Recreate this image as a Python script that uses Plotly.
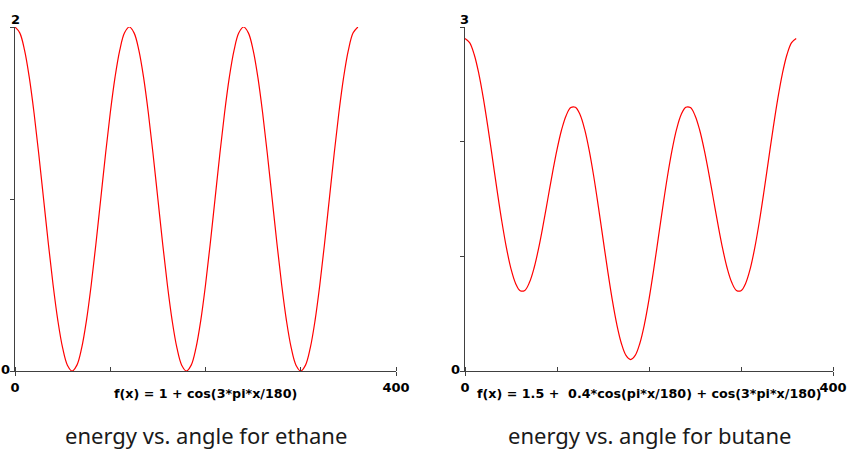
import plotly.graph_objects as go

# angle values (degrees)
angles = [0, 5, 10, 15, 20, 25, 30, 35, 40, 45, 50, 55, 60, 65, 70, 75, 80, 85, 90,
          95, 100, 105, 110, 115, 120, 125, 130, 135, 140, 145, 150, 155, 160, 165, 170, 175, 180,
          185, 190, 195, 200, 205, 210, 215, 220, 225, 230, 235, 240, 245, 250, 255, 260, 265, 270,
          275, 280, 285, 290, 295, 300, 305, 310, 315, 320, 325, 330, 335, 340, 345, 350, 355, 360]

# ethane energy, f(x) = 1 + cos(3*pi*x/180)
ethane_period = [2.0, 1.966, 1.866, 1.707, 1.5, 1.259, 1.0, 0.741, 0.5, 0.293, 0.134, 0.034, 0.0,
                 0.034, 0.134, 0.293, 0.5, 0.741, 1.0, 1.259, 1.5, 1.707, 1.866, 1.966]
ethane_energy = ethane_period + ethane_period + ethane_period + [2.0]

# butane energy, f(x) = 1.5 + 0.4*cos(pi*x/180) + cos(3*pi*x/180)
butane_half = [2.9, 2.864, 2.760, 2.594, 2.376, 2.121, 1.846, 1.569, 1.306, 1.076, 0.891, 0.764,
               0.700, 0.703, 0.771, 0.896, 1.069, 1.276, 1.5, 1.724, 1.931, 2.104, 2.229, 2.297,
               2.3, 2.237, 2.109, 1.924, 1.694, 1.431, 1.154, 0.879, 0.624, 0.406, 0.240, 0.136, 0.1]
butane_energy = butane_half + butane_half[-2::-1]

x_tickvals = [0, 100, 200, 300, 400]
x_ticktext = ["0", "", "", "", "400"]
formulas = ["f(x) = 1 + cos(3*pi*x/180)",
            "f(x) = 1.5 +  0.4*cos(pi*x/180) + cos(3*pi*x/180)"]
captions = ["energy vs. angle for ethane", "energy vs. angle for butane"]
y_tops = [2, 3]

W, H = 848, 451
AXC = "#404040"
BOLD = "DejaVu Sans, Liberation Sans, sans-serif"
tickfont = dict(family=BOLD, size=13, color="#000000", weight="bold")

def px_x(sx):
    return sx / W

def px_y(sy):
    return (H - sy) / H

fig = go.Figure()
fig.add_trace(go.Scatter(x=angles, y=ethane_energy, mode="lines",
                         line=dict(color="#ff0000", width=1.2, shape="spline"),
                         xaxis="x", yaxis="y", showlegend=False))
fig.add_trace(go.Scatter(x=angles, y=butane_energy, mode="lines",
                         line=dict(color="#ff0000", width=1.2, shape="spline"),
                         xaxis="x2", yaxis="y2", showlegend=False))

def xax(domain, anchor):
    return dict(domain=domain, anchor=anchor, range=[0, 400], showgrid=False, zeroline=False,
                showline=True, linecolor=AXC, linewidth=1.3, automargin=False,
                tickmode="array", tickvals=x_tickvals, ticktext=x_ticktext,
                ticks="outside", ticklen=4, tickcolor=AXC, tickwidth=1.3,
                minor=dict(tickmode="array", tickvals=x_tickvals, ticks="inside",
                           ticklen=4, tickcolor=AXC, tickwidth=1.3),
                tickfont=tickfont, fixedrange=True)

def yax(domain, anchor, top):
    vals = list(range(0, top + 1))
    return dict(domain=domain, anchor=anchor, range=[0, top], showgrid=False, zeroline=False,
                showline=True, linecolor=AXC, linewidth=1.3, automargin=False,
                tickmode="array", tickvals=vals, showticklabels=False,
                ticks="outside", ticklen=4, tickcolor=AXC, tickwidth=1.3,
                fixedrange=True)

ydom = [px_y(371), px_y(27)]
xdom1 = [px_x(15), px_x(396)]
xdom2 = [px_x(465), px_x(833)]

annotations = []
for i, (xr, yr) in enumerate([("x", "y"), ("x2", "y2")]):
    # y-axis end labels: "0" left of the origin, top value above the axis end
    annotations.append(dict(xref=xr, yref=yr, x=0, y=0, text="0",
                            showarrow=False, xanchor="right", yanchor="middle", xshift=-3,
                            yshift=2, font=tickfont))
    annotations.append(dict(xref=xr, yref=yr, x=0, y=y_tops[i], text=str(y_tops[i]),
                            showarrow=False, xanchor="center", yanchor="bottom", yshift=-2,
                            font=tickfont))
    annotations.append(dict(xref=xr + " domain", yref="paper", x=0.5, y=px_y(393),
                            text=formulas[i], showarrow=False, xanchor="center", yanchor="middle",
                            font=dict(family=BOLD, size=12.7, color="#000000", weight="bold")))
    annotations.append(dict(xref=xr + " domain", yref="paper", x=0.5, y=px_y(435),
                            text=captions[i], showarrow=False, xanchor="center", yanchor="middle",
                            font=dict(family="Noto Sans, Open Sans, sans-serif", size=22,
                                      color="#1a1a1a")))

fig.update_layout(
    width=W, height=H, margin=dict(l=0, r=0, t=0, b=0),
    paper_bgcolor="#ffffff", plot_bgcolor="#ffffff",
    xaxis=xax(xdom1, "y"), yaxis=yax(ydom, "x", 2),
    xaxis2=xax(xdom2, "y2"), yaxis2=yax(ydom, "x2", 3),
    annotations=annotations,
)
fig.write_html("out.html", config={"displayModeBar": False},
               post_script="document.body.style.margin='0';document.body.style.overflow='hidden';")
